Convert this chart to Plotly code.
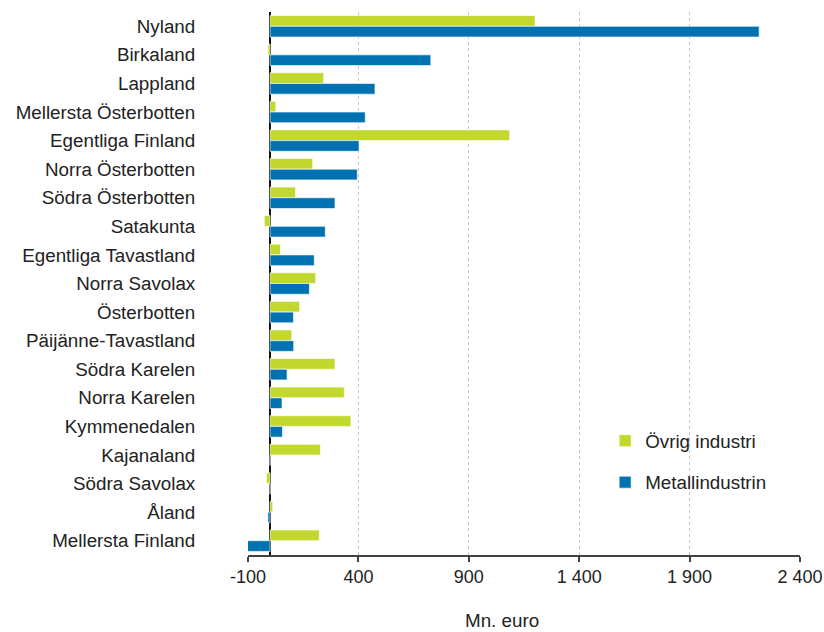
import plotly.graph_objects as go

regions = ["Nyland", "Birkaland", "Lappland", "Mellersta Österbotten", "Egentliga Finland",
           "Norra Österbotten", "Södra Österbotten", "Satakunta", "Egentliga Tavastland",
           "Norra Savolax", "Österbotten", "Päijänne-Tavastland", "Södra Karelen",
           "Norra Karelen", "Kymmenedalen", "Kajanaland", "Södra Savolax", "Åland",
           "Mellersta Finland"]
ovrig = [1200, -10, 243, 26, 1085, 193, 115, -26, 47, 207, 134, 98, 294, 336, 366, 228, -16, 12, 223]
metall = [2215, 728, 475, 431, 403, 395, 294, 250, 200, 178, 106, 107, 77, 54, 56, 0, 0, -10, -104]

tick_vals = [-100, 400, 900, 1400, 1900, 2400]
tick_text = ["-100", "400", "900", "1 400", "1 900", "2 400"]
x_title = "Mn. euro"

GREEN = "#c2d82e"
BLUE = "#0072b1"
FONT = "Liberation Sans, Arial, sans-serif"

fig = go.Figure()
fig.add_trace(go.Bar(y=regions, x=ovrig, orientation="h", name="Övrig industri",
                     marker=dict(color=GREEN, line=dict(color="rgba(255,255,255,0.8)", width=0.8)),
                     legendgroup="a"))
fig.add_trace(go.Bar(y=regions, x=metall, orientation="h", name="Metallindustrin",
                     marker=dict(color=BLUE, line=dict(color="rgba(255,255,255,0.8)", width=0.8)),
                     legendgroup="b"))

fig.update_layout(
    width=824, height=632,
    margin=dict(l=248, r=24, t=12, b=77),
    paper_bgcolor="white", plot_bgcolor="white",
    font=dict(family=FONT, size=18.8, color="#222222"),
    barmode="group", bargap=0.25, bargroupgap=0,
    showlegend=True,
    legend=dict(x=0.647, y=0.245, xanchor="left", yanchor="top",
                traceorder="grouped", tracegroupgap=14,
                bgcolor="rgba(0,0,0,0)", font=dict(size=18.8, color="#222222")),
    xaxis=dict(range=[-100, 2400], tickvals=tick_vals, ticktext=tick_text,
               tickfont=dict(size=18),
               showgrid=True, gridcolor="#c4c4c4", griddash="dot", gridwidth=1,
               zeroline=True, zerolinecolor="#111111", zerolinewidth=2,
               showline=True, linecolor="#404040", linewidth=1.5,
               ticks="outside", ticklen=5, tickcolor="#404040", tickwidth=1.5,
               automargin=False),
    yaxis=dict(autorange="reversed", showgrid=False, zeroline=False, showline=False,
               ticks="outside", ticklen=48, tickcolor="rgba(0,0,0,0)",
               automargin=False),
    annotations=[dict(text=x_title, xref="paper", yref="paper", x=0.46, y=-0.12,
                      xanchor="center", yanchor="middle", showarrow=False,
                      font=dict(size=18.8, color="#222222"))],
)

fig.write_html("out.html", config={"displayModeBar": False},
               post_script="document.body.style.margin='0';document.body.style.overflow='hidden';")
